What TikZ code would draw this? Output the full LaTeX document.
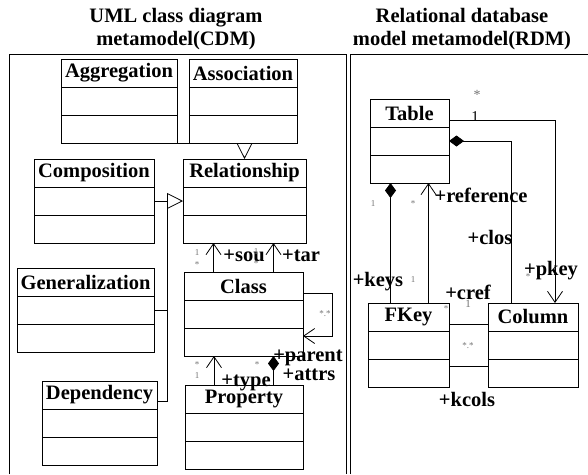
\documentclass[tikz,border=0pt]{standalone}
\usepackage{fontspec}
\setmainfont{Liberation Serif}
\usetikzlibrary{arrows, arrows.meta, positioning}

\tikzset{
  head/.style={draw, line width=0.9pt, minimum height=28pt, outer sep=0pt, inner sep=0pt,
    font=\bfseries\fontsize{20.5}{23}\selectfont},
  part/.style={draw, line width=0.9pt, minimum height=28pt, outer sep=0pt, inner sep=0pt},
  lbl/.style={font=\bfseries\fontsize{20.5}{23}\selectfont, inner sep=0pt},
  mult/.style={font=\fontsize{9}{10}\selectfont, text=black!55, inner sep=0pt},
  gen/.style={line width=0.8pt, -{Triangle[open, length=16pt, width=16pt]}},
  nav/.style={line width=0.8pt, -{Straight Barb[length=11pt, width=15pt]}},
  comp/.style={line width=0.8pt, {Diamond[length=15pt, width=11pt]}-},
}

% class box: name, top-left corner, width, title
\newcommand{\umlclass}[4]{%
  \node[head, minimum width=#3, anchor=north west] (#1) at (#2) {#4};
  \node[part, minimum width=#3, below=0pt of #1] (#1-a) {};
  \node[part, minimum width=#3, below=0pt of #1-a] (#1-b) {};
}

\begin{document}
\begin{tikzpicture}[x=1pt, y=-1pt]
    \useasboundingbox (0,0) rectangle (588,474);

    % Titles
    \node[lbl, align=center] (cdmtitle) at (176,29) {UML class diagram\\metamodel(CDM)};
    \node[lbl, align=center] (rdmtitle) at (462,29) {Relational database\\model metamodel(RDM)};

    % Frames
    \draw[line width=0.9pt] (9,474) -- (9,54) -- (346,54) -- (346,474);
    \draw[line width=0.9pt] (350,474) -- (350,54) -- (588,54);

    % CDM classes
    \umlclass{agg}{61,59}{116pt}{Aggregation}
    \umlclass{asc}{189,59}{108pt}{Association}
    \umlclass{cmp}{34,159}{120pt}{Composition}
    \umlclass{rel}{183,159}{123pt}{Relationship}
    \umlclass{gen}{17,268}{137pt}{Generalization}
    \umlclass{cls}{184,272}{119pt}{Class}
    \umlclass{dep}{42,381}{115pt}{Dependency}
    \umlclass{prp}{185,385}{118pt}{Property}

    % RDM classes
    \umlclass{tab}{370,99}{79pt}{Table}
    \umlclass{fk}{368,303}{81pt}{FKey}
    \umlclass{col}{488,303}{90pt}{Column}

    % Generalizations
    \draw[gen] (agg-b.south) -| (rel.north);
    \draw[gen] (cmp-a.east) -- (rel-a.west);
    \coordinate (jn) at ([xshift=13pt]cmp-a.east);
    \draw[line width=0.8pt] (gen-a.east) -| (jn);
    \draw[line width=0.8pt] ([yshift=-6pt]dep.east) -| (jn);

    % Class associations
    \draw[nav] ([xshift=-30pt]cls.north) coordinate (s1) -- (s1 |- rel-b.south);
    \draw[nav] ([xshift=30pt]cls.north) coordinate (s2) -- (s2 |- rel-b.south);
    \draw[nav] ([yshift=-7pt]cls.east) -- ++(29,0) |- ([yshift=6pt]cls-b.east);
    \draw[nav] ([xshift=-30pt]prp.north) coordinate (t1) -- (t1 |- cls-b.south);
    \draw[comp] ([xshift=30pt]cls-b.south) coordinate (t2) -- (t2 |- prp.north);

    % RDM associations
    \draw[nav] ([yshift=-7pt]tab.east) -| ([xshift=22pt]col.north);
    \draw[comp] (tab-a.east) -| ([xshift=-22pt]col.north);
    \draw[comp] ([xshift=-19pt]tab-b.south) coordinate (k1) -- (k1 |- fk.north);
    \draw[nav] ([xshift=20pt]fk.north) coordinate (r1) -- (r1 |- tab-b.south);
    \draw[line width=0.8pt] ([yshift=-7pt]fk.east) -- ([yshift=-7pt]col.west);
    \draw[line width=0.8pt] ([yshift=7pt]fk-b.east) -- ([yshift=7pt]col-b.west);

    % CDM labels
    \node[lbl] (lsou) at (244,256) {+sou};
    \node[lbl] (ltar) at (301,256) {+tar};
    \node[lbl] (ltype) at (246,383) {+type};
    \node[lbl] (lparent) at (308,358) {+parent};
    \node[lbl] (lattrs) at (309,375) {+attrs};
    \node[mult] (m1) at (197,253) {1};
    \node[mult] (m2) at (197,265) {*};
    \node[mult] (m3) at (256,252) {1};
    \node[mult] (m4) at (256,264) {*};
    \node[mult] (m5) at (325,314) {*.*};
    \node[mult] (m6) at (197,365) {*};
    \node[mult] (m7) at (197,376) {1};
    \node[mult] (m8) at (257,365) {*};

    % RDM labels
    \node[lbl] (lref) at (481,195) {+reference};
    \node[lbl] (lclos) at (490,237) {+clos};
    \node[lbl] (lkeys) at (378,282) {+keys};
    \node[lbl] (lcref) at (468,292) {+cref};
    \node[lbl] (lpkey) at (551,271) {+pkey};
    \node[lbl] (lkcols) at (467,399) {+kcols};
    \node[mult, font=\fontsize{14}{15}\selectfont] (n1) at (477,95) {*};
    \node[inner sep=0pt, font=\fontsize{15}{16}\selectfont] (n2) at (475,117) {1};
    \node[mult] (n3) at (373,204) {1};
    \node[mult] (n4) at (413,204) {*};
    \node[mult] (n5) at (413,280) {1};
    \node[mult, font=\fontsize{11}{12}\selectfont] (n6) at (468,304) {1};
    \node[mult] (n7) at (446,309) {*};
    \node[mult] (n8) at (468,346) {*.*};
    \node[mult] (n9) at (528,277) {*};
\end{tikzpicture}
\end{document}
